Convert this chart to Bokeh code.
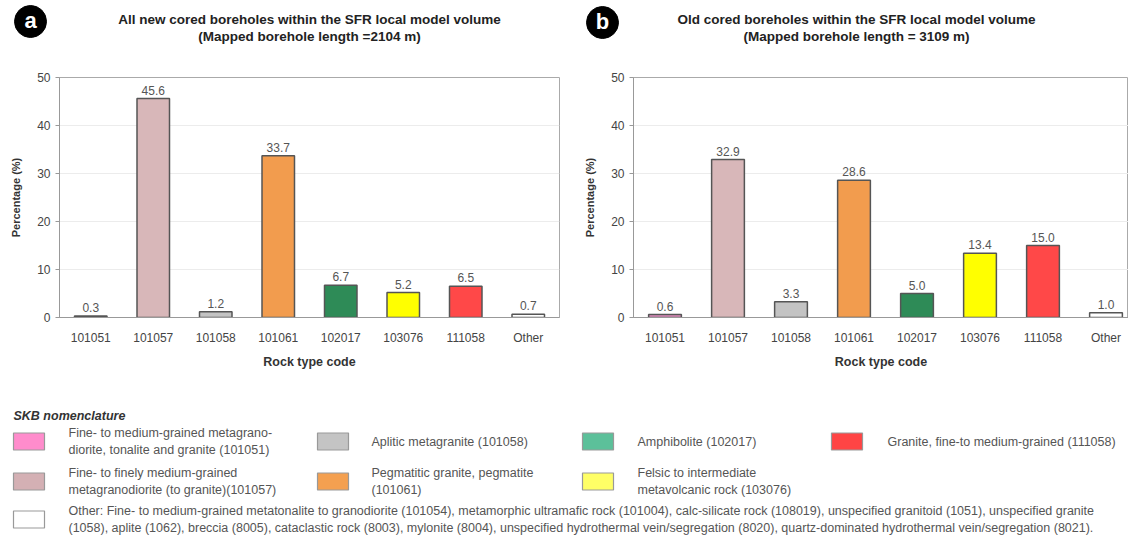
from bokeh.plotting import figure
from bokeh.models import Range1d, ColumnDataSource, FixedTicker
from bokeh.layouts import column, row
from bokeh.embed import file_html
from bokeh.resources import INLINE
from bokeh.core.properties import value

# ---------------- data ----------------
categories = ["101051", "101057", "101058", "101061", "102017", "103076", "111058", "Other"]
pct_new = [0.3, 45.6, 1.2, 33.7, 6.7, 5.2, 6.5, 0.7]
pct_old = [0.6, 32.9, 3.3, 28.6, 5.0, 13.4, 15.0, 1.0]
bar_colors = ["#e08cbe", "#d8b7b9", "#c3c3c3", "#f29c4e", "#2e8b57", "#ffff00", "#ff4848", "#ffffff"]
y_ticks = [0, 10, 20, 30, 40, 50]

title_a = ["All new cored boreholes within the SFR local model volume",
           "(Mapped borehole length =2104 m)"]
title_b = ["Old cored boreholes within the SFR local model volume",
           "(Mapped borehole length = 3109 m)"]
panel_letters = ["a", "b"]

legend_heading = "SKB nomenclature"
legend_codes = ["101051", "101058", "102017", "111058", "101057", "101061", "103076", "Other"]
legend_colors = ["#ff8ccc", "#c4c4c4", "#5cc09a", "#ff4444", "#d4b0b4", "#f4a050", "#ffff66", "#ffffff"]
legend_texts = [
    "Fine- to medium-grained metagrano-\ndiorite, tonalite and granite (101051)",
    "Aplitic metagranite (101058)",
    "Amphibolite (102017)",
    "Granite, fine-to medium-grained (111058)",
    "Fine- to finely medium-grained\nmetagranodiorite (to granite)(101057)",
    "Pegmatitic granite, pegmatite\n(101061)",
    "Felsic to intermediate\nmetavolcanic rock (103076)",
    "Other: Fine- to medium-grained metatonalite to granodiorite (101054), metamorphic ultramafic rock (101004), "
    "calc-silicate rock (108019), unspecified granitoid (1051), unspecified granite\n"
    "(1058), aplite (1062), breccia (8005), cataclastic rock (8003), mylonite (8004), unspecified hydrothermal "
    "vein/segregation (8020), quartz-dominated hydrothermal vein/segregation (8021).",
]

FONT = value("Liberation Sans")
W = 1128

# ---------------- header ----------------
hdr = figure(width=W, height=70, x_range=Range1d(0, 1128), y_range=Range1d(70, 0),
             output_backend="svg", toolbar_location=None, min_border=0)
hdr.axis.visible = False
hdr.grid.visible = False
hdr.outline_line_color = None
hdr.scatter(x=[30, 602], y=[21, 22], size=32, marker="circle", fill_color="black", line_color="black")
hdr.text(x=[30, 602], y=[20, 21], text=panel_letters, text_color="white", text_font=FONT,
         text_font_size="22px", text_font_style="bold", text_align="center", text_baseline="middle")
hdr.text(x=[309, 309, 856, 856], y=[19, 36, 19, 36], text=title_a + title_b, text_font=FONT,
         text_font_size="13.5px", text_font_style="bold", text_color="#222",
         text_align="center", text_baseline="middle")


# ---------------- charts ----------------
def make_chart(vals, width, left, right, bottom, xend):
    xs = [i + 0.5 for i in range(len(categories))]
    src = ColumnDataSource(dict(x=xs, top=vals, color=bar_colors,
                                label=["%.1f" % v for v in vals]))
    p = figure(width=width, height=305, x_range=Range1d(0, xend), y_range=Range1d(0, 50),
               output_backend="svg", toolbar_location=None, min_border=0)
    p.min_border_left = left
    p.min_border_right = right
    p.min_border_top = 7
    p.min_border_bottom = bottom
    p.vbar(x="x", top="top", width=0.52, bottom=0, fill_color="color",
           line_color="#555555", line_width=1.5, source=src)
    p.text(x="x", y="top", text="label", source=src, text_font=FONT, text_font_size="12px",
           text_color="#555", text_align="center", text_baseline="bottom", y_offset=-4)
    p.outline_line_color = "#aaaaaa"
    p.xgrid.visible = False
    p.ygrid.grid_line_color = "#ececec"
    p.ygrid.ticker = FixedTicker(ticks=y_ticks)

    p.yaxis.ticker = FixedTicker(ticks=y_ticks)
    p.yaxis.axis_line_color = "#999999"
    p.yaxis.major_tick_line_color = "#999999"
    p.yaxis.major_tick_out = 4
    p.yaxis.major_tick_in = 0
    p.yaxis.minor_tick_line_color = None
    p.yaxis.major_label_standoff = 5
    p.yaxis.major_label_text_font = "Liberation Sans"
    p.yaxis.major_label_text_font_size = "12px"
    p.yaxis.major_label_text_color = "#444"
    p.yaxis.axis_label = "Percentage (%)"
    p.yaxis.axis_label_text_font = "Liberation Sans"
    p.yaxis.axis_label_text_font_style = "bold"
    p.yaxis.axis_label_text_font_size = "11px"
    p.yaxis.axis_label_text_color = "#333"
    p.yaxis.axis_label_standoff = 12

    p.xaxis.ticker = FixedTicker(ticks=xs)
    p.xaxis.major_label_overrides = {x: c for x, c in zip(xs, categories)}
    p.xaxis.axis_line_color = "#999999"
    p.xaxis.major_tick_line_color = None
    p.xaxis.minor_tick_line_color = None
    p.xaxis.major_tick_out = 0
    p.xaxis.major_label_standoff = 13
    p.xaxis.major_label_text_font = "Liberation Sans"
    p.xaxis.major_label_text_font_size = "12px"
    p.xaxis.major_label_text_color = "#444"
    p.xaxis.axis_label = "Rock type code"
    p.xaxis.axis_label_text_font = "Liberation Sans"
    p.xaxis.axis_label_text_font_style = "bold"
    p.xaxis.axis_label_text_font_size = "12.5px"
    p.xaxis.axis_label_text_color = "#333"
    p.xaxis.axis_label_standoff = 7
    return p


pa = make_chart(pct_new, 562, 59, 3, 58, 8)
pb = make_chart(pct_old, 566, 71, 0, 54, (1128 - 633) / 63.0)

# ---------------- legend ----------------
leg = figure(width=W, height=160, x_range=Range1d(0, 1128), y_range=Range1d(535, 375),
             output_backend="svg", toolbar_location=None, min_border=0)
leg.axis.visible = False
leg.grid.visible = False
leg.outline_line_color = None
col_sw = [13, 317, 582, 831]
col_tx = [68, 371, 637, 887]
row_y = [441, 481, 519]
sx, sy, tx, ty = [], [], [], []
for i, code in enumerate(legend_codes):
    r, c = (i // 4, i % 4) if i < 4 else ((1, i - 4) if i < 7 else (2, 0))
    sx.append(col_sw[c] + 15.5)
    sy.append(row_y[r])
    tx.append(col_tx[c])
    ty.append(row_y[r])
leg.rect(x=sx, y=sy, width=31, height=17, fill_color=legend_colors, line_color="#999999", line_width=1.2)
leg.text(x=tx, y=ty, text=legend_texts, text_font=FONT, text_font_size="12.5px", text_color="#555",
         text_align="left", text_baseline="middle", text_line_height=1.2)
leg.text(x=[13], y=[415], text=[legend_heading], text_font=FONT, text_font_size="12.5px",
         text_font_style="bold italic", text_color="#333", text_align="left", text_baseline="middle")

layout = column(hdr, row(pa, pb), leg)
open("out.html", "w").write(file_html(layout, INLINE))
